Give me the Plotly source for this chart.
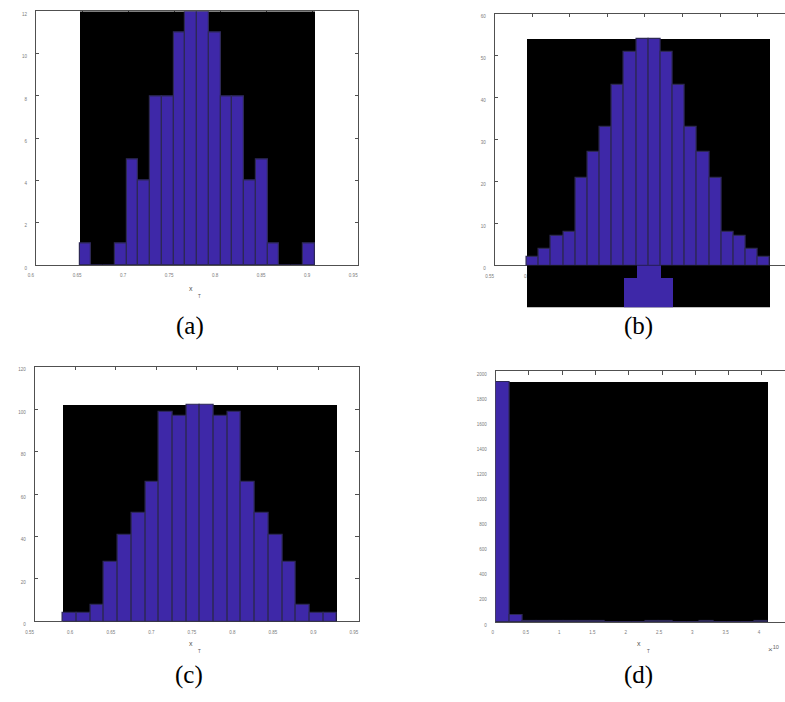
import plotly.graph_objects as go

W, H = 785, 702

# ---------------- data ----------------
# (a)
a_counts = [1, 0, 0, 1, 5, 4, 8, 8, 11, 12, 12, 11, 8, 8, 4, 5, 1, 0, 0, 1]
a_start, a_width = 0.6475, 0.01275
# (b)
b_counts = [2, 4, 7, 8, 21, 27, 33, 43, 51, 54, 54, 51, 43, 33, 27, 21, 8, 7, 4, 2]
b_start, b_width = 0.5926, 0.0162
# (c)
c_counts = [4, 4, 8, 28, 41, 51, 66, 99, 97, 102, 102, 97, 99, 66, 51, 41, 28, 8, 4, 4]
c_start, c_width = 0.585, 0.0169
# (d)  (x in units of 1e10)
d_counts = [1915, 52, 10, 3, 9, 4, 3, 3, 2, 2, 1, 5, 3, 2, 2, 3, 1, 1, 1, 4]
d_start, d_width = 0.0, 0.2045

captions = ["(a)", "(b)", "(c)", "(d)"]
x_label_main, x_label_sub = "x", "T"
exp_label = "×<sup>10</sup>"

# ---------------- style ----------------
BAR_FILL = "rgb(62,40,168)"
BAR_EDGE = "rgb(45,40,85)"
AX_COL = "#505050"
TICK_FONT = dict(size=4.5, color="#7a7a7a", family="Arial")
OVERFLOW_DEPTH = 10  # depth (in counts) of the rendering artefact below panel (b)


def px_x(a, b):
    return [a / W, b / W]


def px_y(top, bottom):
    return [1 - bottom / H, 1 - top / H]


def centers(start, width, n):
    return [start + width * (i + 0.5) for i in range(n)]


def backing(start, width, counts, xa, ya):
    n = len(counts)
    return go.Bar(x=[start + width * n / 2], y=[max(counts)], width=[width * n],
                  marker=dict(color="black", line=dict(width=0)),
                  xaxis=xa, yaxis=ya, showlegend=False, hoverinfo="skip")


def hist(start, width, counts, xa, ya, edge=True):
    n = len(counts)
    return go.Bar(x=centers(start, width, n), y=counts, width=[width] * n,
                  marker=dict(color=BAR_FILL,
                              line=dict(color=BAR_EDGE, width=1.2 if edge else 0)),
                  xaxis=xa, yaxis=ya, showlegend=False)


fig = go.Figure()
panels = [
    (a_start, a_width, a_counts, "x", "y"),
    (b_start, b_width, b_counts, "x2", "y2"),
    (c_start, c_width, c_counts, "x3", "y3"),
    (d_start, d_width, d_counts, "x4", "y4"),
]
for s, w, cnt, xa, ya in panels:
    fig.add_trace(backing(s, w, cnt, xa, ya))
    fig.add_trace(hist(s, w, cnt, xa, ya))

# overflow artefact under panel (b)
fig.add_trace(backing(b_start, b_width, b_counts, "x5", "y5"))
fig.add_trace(hist(b_start, b_width, b_counts, "x5", "y5", edge=False))


def xax(domain, rng, dtick, tick0, anchor, shift=-5, mirror=True):
    return dict(domain=domain, range=rng, dtick=dtick, tick0=tick0, tickmode="linear",
                anchor=anchor, showline=True, linecolor=AX_COL, linewidth=1,
                ticks="inside", ticklen=3.5, tickwidth=0.8, tickcolor=AX_COL,
                mirror="ticks" if mirror else False, showgrid=False, zeroline=False,
                tickfont=TICK_FONT, ticklabelshift=shift, ticklabelstandoff=6,
                layer="below traces")


def yax(domain, rng, dtick, anchor, mirror=True):
    return dict(domain=domain, range=rng, dtick=dtick, tick0=0, tickmode="linear",
                anchor=anchor, showline=True, linecolor=AX_COL, linewidth=1,
                ticks="inside", ticklen=3.5, tickwidth=0.8, tickcolor=AX_COL,
                mirror="ticks" if mirror else False, showgrid=False, zeroline=False,
                tickfont=TICK_FONT, ticklabelshift=3, ticklabelstandoff=7,
                layer="below traces")


b_xrange = [0.55, 0.55 + (785 - 491.3) / 760]
d_xrange = [0, (785 - 492.3) / 67.33]

fig.update_layout(
    width=W, height=H,
    margin=dict(l=0, r=0, t=0, b=0),
    paper_bgcolor="white", plot_bgcolor="rgba(0,0,0,0)",
    barmode="overlay", bargap=0,
    xaxis=xax(px_x(27.3, 353.3), [0.6, 0.95], 0.05, 0.6, "y"),
    yaxis=yax(px_y(11.5, 267.3), [0, 12], 2, "x"),
    xaxis2=xax(px_x(491.3, 785), b_xrange, 0.05, 0.55, "y2"),
    yaxis2=yax(px_y(14, 267.7), [0, 60], 10, "x2", mirror=False),
    xaxis3=xax(px_x(26, 354), [0.55, 0.95], 0.05, 0.55, "y3"),
    yaxis3=yax(px_y(370, 626.7), [0, 120], 20, "x3"),
    xaxis4=xax(px_x(492.3, 785), d_xrange, 0.5, 0, "y4", shift=-3),
    yaxis4=yax(px_y(374.3, 627.3), [0, 2000], 200, "x4", mirror=False),
    xaxis5=dict(domain=px_x(491.3, 785), range=b_xrange, anchor="y5", visible=False),
    yaxis5=dict(domain=px_y(267.7, 310), range=[max(b_counts) - OVERFLOW_DEPTH, max(b_counts)],
                anchor="x5", visible=False),
)


def note(text, cx, cy, size, color, family="Arial"):
    fig.add_annotation(text=text, x=cx / W, y=1 - cy / H, xref="paper", yref="paper",
                       showarrow=False, xanchor="center", yanchor="middle",
                       font=dict(size=size, color=color, family=family))


cap_pos = [(182.8, 328.8), (636.3, 328.8), (182, 680.5), (636.3, 681)]
for txt, (cx, cy) in zip(captions, cap_pos):
    note(txt, cx, cy, 25, "black", "Liberation Serif")

# x_T axis labels (the one of panel (b) is hidden under the artefact)
for (xc, yc) in [(184, 291), (184, 649), (637.7, 649)]:
    note(x_label_main, xc, yc, 7, "#555")
    note(x_label_sub, xc + 9, yc + 8.5, 4.5, "#555")

note(exp_label, 773, 655, 8, "#666")

fig.write_html("out.html",
               config={"displayModeBar": False},
               post_script="document.body.style.margin='0px';document.body.style.overflow='hidden';")
